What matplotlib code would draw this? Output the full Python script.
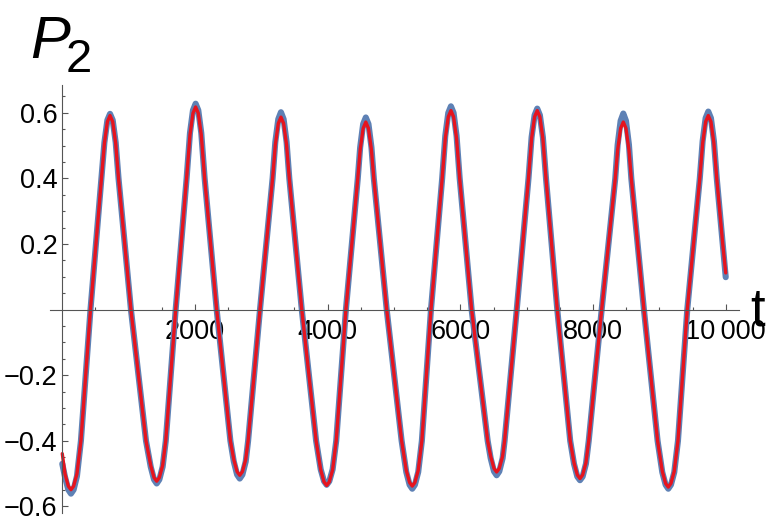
import matplotlib
matplotlib.use("Agg")
import matplotlib.pyplot as plt
from matplotlib.ticker import FixedLocator

plt.rcParams['font.family'] = ['Liberation Sans', 'DejaVu Sans']

# values (red = thin curve, blue = thick curve underneath)
t_vals = [0, 41, 91, 131, 171, 221, 281, 353, 425, 508, 592, 635, 680, 720,
          760, 805, 848, 942, 1035, 1148, 1262, 1333, 1383, 1423,
          1463, 1513, 1560, 1635, 1709, 1792, 1874, 1925, 1970, 2010,
          2050, 2095, 2146, 2237, 2327, 2430, 2534, 2585, 2635, 2675,
          2715, 2765, 2801, 2890, 2980, 3075, 3170, 3211, 3256, 3296,
          3336, 3381, 3422, 3516, 3610, 3718, 3826, 3895, 3945, 3985,
          4025, 4075, 4129, 4202, 4275, 4365, 4454, 4490, 4535, 4575,
          4615, 4660, 4696, 4793, 4890, 5003, 5115, 5185, 5235, 5275,
          5315, 5365, 5420, 5489, 5557, 5641, 5726, 5773, 5818, 5858,
          5898, 5943, 5990, 6080, 6170, 6291, 6412, 6457, 6507, 6547,
          6587, 6637, 6667, 6759, 6850, 6939, 7027, 7074, 7119, 7159,
          7199, 7244, 7291, 7376, 7461, 7559, 7656, 7713, 7763, 7803,
          7843, 7893, 7935, 8032, 8130, 8233, 8335, 8371, 8416, 8456,
          8496, 8541, 8577, 8672, 8767, 8870, 8973, 9044, 9094, 9134,
          9174, 9224, 9280, 9350, 9420, 9515, 9609, 9652, 9697, 9737,
          9777, 9822, 9865, 9955, 10000]

p2_red = [-0.439, -0.501, -0.538, -0.549, -0.538, -0.501, -0.4, -0.2, 0.0, 0.2, 0.4, 0.507, 0.573, 0.592,
          0.573, 0.507, 0.4, 0.2, 0.0, -0.2, -0.4, -0.475, -0.512, -0.523,
          -0.512, -0.475, -0.4, -0.2, 0.0, 0.2, 0.4, 0.533, 0.599, 0.618,
          0.599, 0.533, 0.4, 0.2, 0.0, -0.2, -0.4, -0.457, -0.494, -0.505,
          -0.494, -0.457, -0.4, -0.2, 0.0, 0.2, 0.4, 0.502, 0.568, 0.587,
          0.568, 0.502, 0.4, 0.2, 0.0, -0.2, -0.4, -0.488, -0.525, -0.536,
          -0.525, -0.488, -0.4, -0.2, 0.0, 0.2, 0.4, 0.487, 0.553, 0.572,
          0.553, 0.487, 0.4, 0.2, 0.0, -0.2, -0.4, -0.490, -0.527, -0.538,
          -0.527, -0.490, -0.4, -0.2, 0.0, 0.2, 0.4, 0.522, 0.588, 0.607,
          0.588, 0.522, 0.4, 0.2, 0.0, -0.2, -0.4, -0.447, -0.484, -0.495,
          -0.484, -0.447, -0.4, -0.2, 0.0, 0.2, 0.4, 0.522, 0.588, 0.607,
          0.588, 0.522, 0.4, 0.2, 0.0, -0.2, -0.4, -0.467, -0.504, -0.515,
          -0.504, -0.467, -0.4, -0.2, 0.0, 0.2, 0.4, 0.487, 0.553, 0.572,
          0.553, 0.487, 0.4, 0.2, 0.0, -0.2, -0.4, -0.493, -0.530, -0.541,
          -0.530, -0.493, -0.4, -0.2, 0.0, 0.2, 0.4, 0.507, 0.573, 0.592,
          0.573, 0.507, 0.4, 0.2, 0.112]

p2_blue = [-0.470, -0.510, -0.549, -0.561, -0.549, -0.508, -0.4, -0.2, 0.0, 0.2, 0.4, 0.510, 0.578, 0.597,
           0.578, 0.510, 0.4, 0.2, 0.0, -0.2, -0.4, -0.479, -0.518, -0.530,
           -0.518, -0.479, -0.4, -0.2, 0.0, 0.2, 0.4, 0.539, 0.608, 0.628,
           0.608, 0.539, 0.4, 0.2, 0.0, -0.2, -0.4, -0.463, -0.503, -0.515,
           -0.503, -0.463, -0.4, -0.2, 0.0, 0.2, 0.4, 0.511, 0.581, 0.602,
           0.581, 0.511, 0.4, 0.2, 0.0, -0.2, -0.4, -0.487, -0.523, -0.534,
           -0.523, -0.487, -0.4, -0.2, 0.0, 0.2, 0.4, 0.495, 0.566, 0.586,
           0.566, 0.495, 0.4, 0.2, 0.0, -0.2, -0.4, -0.495, -0.534, -0.546,
           -0.534, -0.495, -0.4, -0.2, 0.0, 0.2, 0.4, 0.530, 0.600, 0.620,
           0.600, 0.530, 0.4, 0.2, 0.0, -0.2, -0.4, -0.453, -0.493, -0.505,
           -0.493, -0.453, -0.4, -0.2, 0.0, 0.2, 0.4, 0.526, 0.593, 0.613,
           0.593, 0.526, 0.4, 0.2, 0.0, -0.2, -0.4, -0.470, -0.509, -0.520,
           -0.509, -0.470, -0.4, -0.2, 0.0, 0.2, 0.4, 0.503, 0.576, 0.598,
           0.576, 0.503, 0.4, 0.2, 0.0, -0.2, -0.4, -0.496, -0.534, -0.546,
           -0.534, -0.496, -0.4, -0.2, 0.0, 0.2, 0.4, 0.514, 0.584, 0.604,
           0.584, 0.514, 0.4, 0.2, 0.099]

x_ticks = [2000, 4000, 6000, 8000, 10000]
x_labels = ['2000', '4000', '6000', '8000', '10\u2009000']
y_ticks = [-0.6, -0.4, -0.2, 0.2, 0.4, 0.6]
y_labels = ['\u22120.6', '\u22120.4', '\u22120.2', '0.2', '0.4', '0.6']

fig = plt.figure(figsize=(7.68, 5.25), dpi=100)
ax = fig.add_axes([50 / 768, 12 / 525, 689 / 768, 428 / 525])

ax.plot(t_vals, p2_blue, color='#5E81B5', lw=4.4, solid_joinstyle='round', solid_capstyle='round')
ax.plot(t_vals, p2_red, color='#E6141E', lw=2.4, solid_joinstyle='round', solid_capstyle='round')

ax.set_xlim(-185, 10200)
ax.set_ylim(-0.620, 0.685)

axis_col = '#555555'
for s in ['top', 'right']:
    ax.spines[s].set_visible(False)
ax.spines['left'].set_position(('data', 0))
ax.spines['bottom'].set_position(('data', 0))
for s in ['left', 'bottom']:
    ax.spines[s].set_color(axis_col)
    ax.spines[s].set_linewidth(0.8)

ax.set_xticks(x_ticks)
ax.set_xticklabels(x_labels)
ax.set_yticks(y_ticks)
ax.set_yticklabels(y_labels)
ax.xaxis.set_minor_locator(FixedLocator([m * 500 for m in range(1, 21) if m % 4 != 0]))
ax.yaxis.set_minor_locator(FixedLocator([k * 0.05 for k in range(-12, 14) if k % 4 != 0]))

ax.tick_params(which='both', direction='in', color=axis_col, width=0.8, labelsize=19.5)
ax.tick_params(which='major', length=4.5)
ax.tick_params(which='minor', length=2.5)
ax.tick_params(axis='x', pad=7)
ax.tick_params(axis='y', pad=3.5)

fig.text(30 / 768, 1 - 58 / 525, 'P', fontsize=43, fontstyle='italic', va='baseline', ha='left')
fig.text(66 / 768, 1 - 72 / 525, '2', fontsize=34, va='baseline', ha='left')
fig.text(750 / 768, 1 - 325 / 525, 't', fontsize=38, va='baseline', ha='left')

fig.savefig('out.png', dpi=100)
